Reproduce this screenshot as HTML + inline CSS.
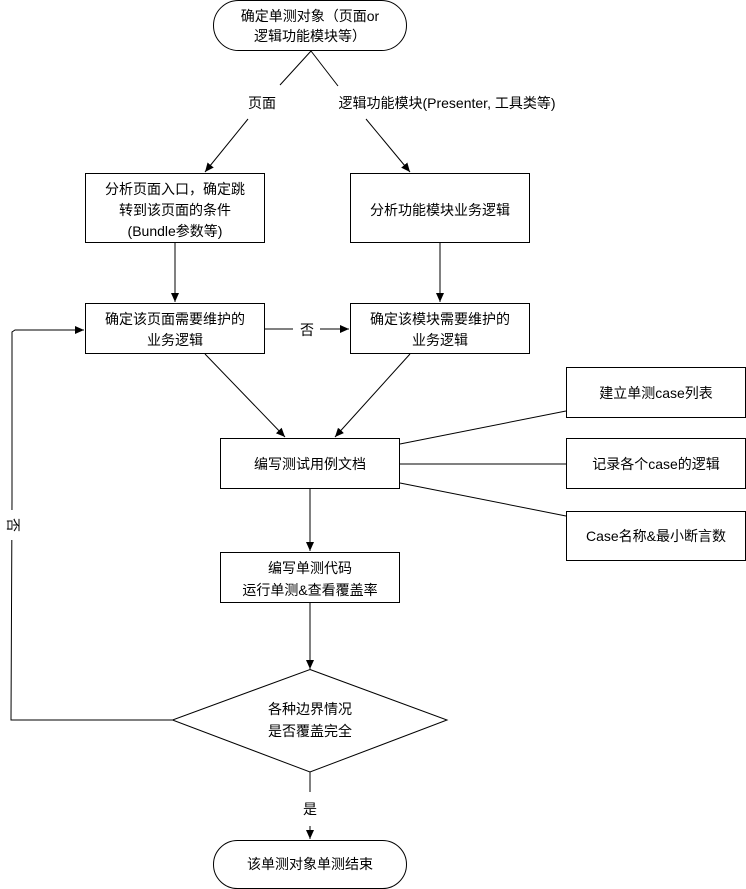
<!DOCTYPE html>
<html><head><meta charset="utf-8"><style>
html,body{margin:0;padding:0;background:#fff;}
svg{display:block;}
text{font-family:"Liberation Sans","Noto Sans CJK SC",sans-serif;font-size:14px;fill:#000;text-anchor:middle;}
</style></head><body>
<svg width="746" height="889" viewBox="0 0 746 889" xmlns="http://www.w3.org/2000/svg">
<defs><marker id="a" markerWidth="10" markerHeight="10" refX="9" refY="5" orient="auto" markerUnits="userSpaceOnUse"><path d="M0,1 L9,5 L0,9 Z" fill="#000"/></marker></defs>
<g fill="none" stroke="#000" stroke-width="1">
<rect x="213.5" y="0.5" width="193" height="50" rx="25" fill="#fff"/>
<line x1="311" y1="51" x2="280" y2="85"/>
<line x1="311" y1="51" x2="338" y2="86"/>
<line x1="248" y1="119" x2="205" y2="172" marker-end="url(#a)"/>
<line x1="366" y1="119" x2="410" y2="172" marker-end="url(#a)"/>
<rect x="85.5" y="173.5" width="179" height="69" fill="#fff"/>
<rect x="350.5" y="173.5" width="179" height="69" fill="#fff"/>
<line x1="175" y1="243" x2="175" y2="302" marker-end="url(#a)"/>
<line x1="440" y1="243" x2="440" y2="302" marker-end="url(#a)"/>
<rect x="85.5" y="303.5" width="179" height="50" fill="#fff"/>
<rect x="350.5" y="303.5" width="179" height="50" fill="#fff"/>
<line x1="265" y1="329" x2="293" y2="329"/>
<line x1="320" y1="329" x2="349" y2="329" marker-end="url(#a)"/>
<polyline points="172,720 11,720 12,500"/>
<polyline points="12,500 12,332 15,330 84,330" marker-end="url(#a)"/>
<line x1="12" y1="540" x2="12" y2="510" stroke="#fff" stroke-width="3"/>
<line x1="205" y1="354" x2="285" y2="437" marker-end="url(#a)"/>
<line x1="410" y1="354" x2="335" y2="437" marker-end="url(#a)"/>
<rect x="220.5" y="438.5" width="179" height="50" fill="#fff"/>
<rect x="566.5" y="367.5" width="179" height="50" fill="#fff"/>
<rect x="566.5" y="438.5" width="179" height="50" fill="#fff"/>
<rect x="566.5" y="511.5" width="179" height="49" fill="#fff"/>
<line x1="400" y1="444" x2="566" y2="411"/>
<line x1="400" y1="464" x2="566" y2="464"/>
<line x1="400" y1="483" x2="566" y2="516"/>
<line x1="310" y1="489" x2="310" y2="551" marker-end="url(#a)"/>
<rect x="220.5" y="552.5" width="179" height="50" fill="#fff"/>
<line x1="310" y1="603" x2="310" y2="669" marker-end="url(#a)"/>
<polygon points="310,669.5 447,720 310,772 172.5,720" fill="#fff"/>
<line x1="310" y1="772" x2="310" y2="792"/>
<line x1="310" y1="826" x2="310" y2="839" marker-end="url(#a)"/>
<rect x="213.5" y="840.5" width="193" height="48" rx="24" fill="#fff"/>
</g>
<text x="310" y="21">确定单测对象（页面or</text>
<text x="310" y="41">逻辑功能模块等）</text>
<text x="262" y="108">页面</text>
<text x="447" y="108">逻辑功能模块(Presenter, 工具类等)</text>
<text x="175" y="194">分析页面入口，确定跳</text>
<text x="175" y="215">转到该页面的条件</text>
<text x="175" y="236">(Bundle参数等)</text>
<text x="440" y="215">分析功能模块业务逻辑</text>
<text x="175" y="324">确定该页面需要维护的</text>
<text x="175" y="345">业务逻辑</text>
<text x="440" y="324">确定该模块需要维护的</text>
<text x="440" y="345">业务逻辑</text>
<text x="307" y="335">否</text>
<text x="13" y="530" transform="rotate(90 13 525)">否</text>
<text x="310" y="469">编写测试用例文档</text>
<text x="656" y="398">建立单测case列表</text>
<text x="656" y="469">记录各个case的逻辑</text>
<text x="656" y="541">Case名称&amp;最小断言数</text>
<text x="310" y="573">编写单测代码</text>
<text x="310" y="595">运行单测&amp;查看覆盖率</text>
<text x="310" y="714">各种边界情况</text>
<text x="310" y="736">是否覆盖完全</text>
<text x="310" y="814">是</text>
<text x="310" y="869">该单测对象单测结束</text>
</svg>
</body></html>
